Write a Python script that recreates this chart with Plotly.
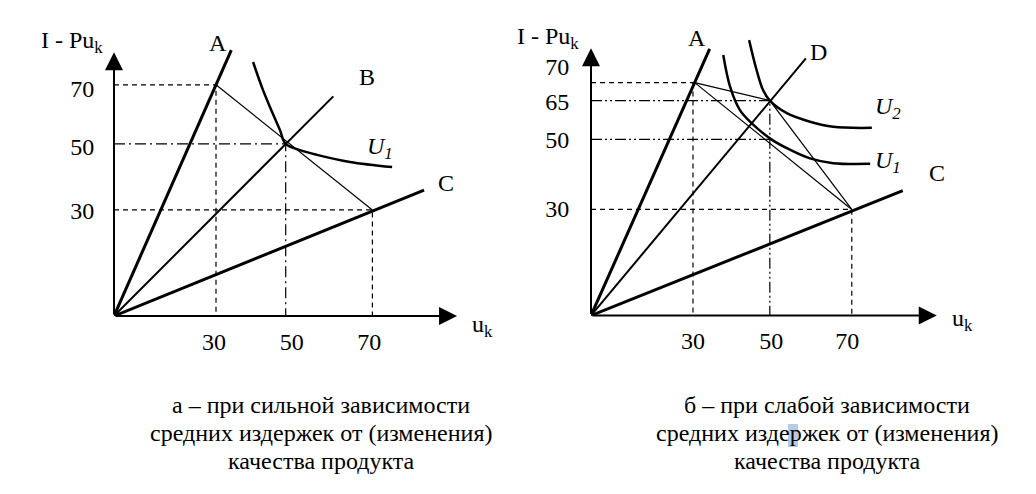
import plotly.graph_objects as go

FONT = "Liberation Serif, Tinos, Times New Roman, DejaVu Serif, serif"

# ---------- panel а (left) : diagram units ----------
a_xticks = [29.4, 52.3, 75.1]
a_yticks = [67.0, 49.8, 31.0]
a_xticklabels = ["30", "50", "70"]
a_yticklabels = ["70", "50", "30"]
a_ray_A = ([0, 34.5], [0, 78.2])
a_ray_B = ([0, 64.5], [0, 64.6])
a_ray_C = ([0, 91.2], [0, 37.0])
a_budget = ([30.0, 76.0], [68.0, 31.2])
a_U1_x = [40.9, 43.8, 46.5, 48.8, 50.5, 54.7, 59.7, 69.4, 81.8]
a_U1_y = [74.7, 66.5, 60.0, 54.7, 50.6, 48.8, 47.4, 45.3, 43.8]
a_pt70 = (30.0, 68.0)
a_pt50 = (50.5, 50.6)
a_pt30 = (76.0, 31.2)
a_axis_tip = (100.9, 77.6)

# ---------- panel б (right) ----------
b_xticks = [30.0, 53.0, 75.4]
b_yticks = [73.2, 62.9, 51.8, 31.3]
b_xticklabels = ["30", "50", "70"]
b_yticklabels = ["70", "65", "50", "30"]
b_ray_A = ([0, 34.9], [0, 78.4])
b_ray_D = ([0, 63.2], [0, 75.6])
b_ray_C = ([0, 91.7], [0, 36.7])
b_budget1 = ([30.5, 52.6, 76.7], [68.5, 63.2, 31.2])
b_budget2 = ([30.5, 76.7], [68.5, 31.2])
b_U2_x = [46.5, 48.7, 50.6, 52.6, 57.6, 64.4, 71.2, 82.6]
b_U2_y = [81.0, 72.2, 66.3, 63.2, 59.5, 57.0, 55.5, 55.2]
b_U1_x = [38.9, 40.9, 43.8, 47.3, 52.6, 57.6, 64.4, 71.2, 82.1]
b_U1_y = [76.6, 67.3, 60.4, 56.5, 52.1, 49.2, 46.2, 44.8, 44.6]
b_pt_top = (30.5, 68.5)
b_pt65 = (52.6, 63.2)
b_pt50 = (52.6, 51.8)
b_pt30 = (76.7, 31.2)
b_axis_tip = (101.7, 78.6)

caption_a = ["а – при сильной зависимости",
             "средних издержек от (изменения)",
             "качества продукта"]
caption_b = ["б – при слабой зависимости",
             "средних издержек от (изменения)",
             "качества продукта"]

DASH = "5px,4px"
DASHDOT = "11px,4px,2px,4px"
DASHDOTDOT = "11px,3px,2px,3px,2px,3px"

W, H = 1036, 494

fig = go.Figure()


def line(xs, ys, ax, width, dash="solid", shape="linear"):
    xa, ya = ax
    fig.add_trace(go.Scatter(x=list(xs), y=list(ys), mode="lines",
                             line=dict(color="black", width=width, dash=dash,
                                       shape=shape, smoothing=1.0),
                             xaxis=xa, yaxis=ya, hoverinfo="skip",
                             showlegend=False, cliponaxis=False))


L = ("x", "y")
R = ("x2", "y2")

# guide lines, panel а
line([0, a_pt70[0], a_pt70[0]], [a_pt70[1], a_pt70[1], 0], L, 1.2, DASH)
line([0, a_pt50[0], a_pt50[0]], [a_pt50[1], a_pt50[1], 0], L, 1.2, DASHDOT)
line([0, a_pt30[0], a_pt30[0]], [a_pt30[1], a_pt30[1], 0], L, 1.2, DASH)
# rays and curves
line(*a_ray_A, L, 3)
line(*a_ray_B, L, 2)
line(*a_ray_C, L, 3)
line(*a_budget, L, 1.2)
line(a_U1_x, a_U1_y, L, 2.5, shape="spline")

# guide lines, panel б
line([0, b_pt_top[0]], [b_pt_top[1], b_pt_top[1]], R, 1.2, DASH)
line([b_xticks[0], b_xticks[0]], [b_pt_top[1], 0], R, 1.2, DASH)
line([0, b_pt65[0], b_pt65[0]], [b_pt65[1], b_pt65[1], 0], R, 1.2, DASHDOTDOT)
line([0, b_pt50[0]], [b_pt50[1], b_pt50[1]], R, 1.2, DASHDOTDOT)
line([0, b_pt30[0], b_pt30[0]], [b_pt30[1], b_pt30[1], 0], R, 1.2, DASH)
line(*b_ray_A, R, 3)
line(*b_ray_D, R, 2)
line(*b_ray_C, R, 3)
line(*b_budget1, R, 1.2)
line(*b_budget2, R, 1.2)
line(b_U2_x, b_U2_y, R, 2.5, shape="spline")
line(b_U1_x, b_U1_y, R, 2.5, shape="spline")

ann = []


def arrow(tip, xa, ya, vertical):
    tx, ty = (0, tip[1]) if vertical else (tip[0], 0)
    ann.append(dict(x=tx, y=ty, ax=0, ay=0, xref=xa, yref=ya,
                    axref=xa, ayref=ya, text="", showarrow=True,
                    arrowhead=2, arrowwidth=2, arrowsize=1.8,
                    arrowcolor="black", standoff=0, startstandoff=0))


arrow(a_axis_tip, "x", "y", False)
arrow(a_axis_tip, "x", "y", True)
arrow(b_axis_tip, "x2", "y2", False)
arrow(b_axis_tip, "x2", "y2", True)


def label(x, y, text, xa, ya, size=24):
    ann.append(dict(x=x, y=y, xref=xa, yref=ya, text=text, showarrow=False,
                    font=dict(family=FONT, size=size, color="black"),
                    xanchor="center", yanchor="middle"))


def plabel(px, py, text, size=24):
    ann.append(dict(x=px / W, y=1 - py / H, xref="paper", yref="paper",
                    text=text, showarrow=False,
                    font=dict(family=FONT, size=size, color="black"),
                    xanchor="center", yanchor="middle"))


label(30.6, 80.4, "A", "x", "y")
label(74.3, 70.4, "B", "x", "y")
label(97.6, 39.0, "C", "x", "y")
label(78.2, 49.4, "<i>U</i><sub><i>1</i></sub>", "x", "y")

label(31.1, 81.5, "A", "x2", "y2")
label(66.8, 77.6, "D", "x2", "y2")
label(101.7, 42.0, "C", "x2", "y2")
label(87.4, 61.0, "<i>U</i><sub><i>2</i></sub>", "x2", "y2")
label(87.4, 45.2, "<i>U</i><sub><i>1</i></sub>", "x2", "y2")

# axis titles
plabel(72, 42, "I - Pu<sub>k</sub>")
plabel(482, 326, "u<sub>k</sub>")
plabel(548, 38, "I - Pu<sub>k</sub>")
plabel(962, 320, "u<sub>k</sub>")

for i, t in enumerate(caption_a):
    plabel(321, 405 + 28 * i, t)
for i, t in enumerate(caption_b):
    plabel(827, 405 + 28 * i, t)

# light selection highlight seen in the scanned caption
shapes = [dict(type="rect", xref="paper", yref="paper",
               x0=788 / W, x1=798 / W, y0=1 - 447 / H, y1=1 - 424 / H,
               fillcolor="rgba(120,160,210,0.55)", line=dict(width=0),
               layer="below")]

axis_common = dict(showgrid=False, zeroline=False, showline=False,
                   ticks="outside", tickcolor="rgba(0,0,0,0)",
                   tickfont=dict(family=FONT, size=24, color="black"),
                   fixedrange=True)

fig.update_layout(
    width=W, height=H, margin=dict(l=0, r=0, t=0, b=0),
    paper_bgcolor="white", plot_bgcolor="white", showlegend=False,
    xaxis=dict(domain=[114 / W, 518 / W], range=[0, 404 / 3.4],
               tickvals=a_xticks, ticktext=a_xticklabels, ticklen=4,
               anchor="y", **axis_common),
    yaxis=dict(domain=[178 / H, 1], range=[0, 316 / 3.4],
               tickvals=a_yticks, ticktext=a_yticklabels, ticklen=14,
               anchor="x", **axis_common),
    xaxis2=dict(domain=[591 / W, 1], range=[0, 445 / 3.4],
                tickvals=b_xticks, ticktext=b_xticklabels, ticklen=4,
                anchor="y2", **axis_common),
    yaxis2=dict(domain=[178.5 / H, 1], range=[0, 315.5 / 3.4],
                tickvals=b_yticks, ticktext=b_yticklabels, ticklen=16,
                anchor="x2", **axis_common),
    annotations=ann,
    shapes=shapes,
)

fig.write_html("out.html")
